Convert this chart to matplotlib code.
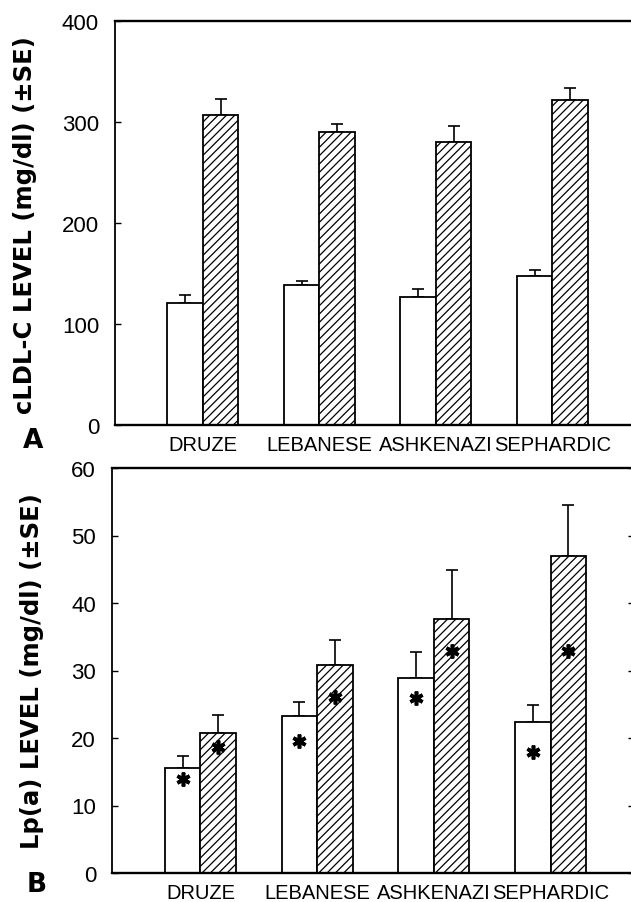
import matplotlib
matplotlib.use("Agg")
import matplotlib.pyplot as plt
import numpy as np

plt.rcParams['hatch.linewidth'] = 0.9
plt.rcParams['font.family'] = ['Liberation Sans', 'DejaVu Sans']

categories = ["DRUZE", "LEBANESE", "ASHKENAZI", "SEPHARDIC"]

# Panel A: cLDL-C level (mg/dl), mean and SE
ldl_open = [121, 138.5, 127, 147.5]
ldl_open_se = [8, 4.5, 7.5, 5.5]
ldl_hatched = [307, 290, 280, 322]
ldl_hatched_se = [16, 8, 16, 12]

# Panel B: Lp(a) level (mg/dl), mean and SE, plus asterisk values (medians)
lpa_open = [15.6, 23.3, 28.9, 22.3]
lpa_open_se = [1.8, 2.0, 3.9, 2.6]
lpa_hatched = [20.7, 30.8, 37.6, 47.0]
lpa_hatched_se = [2.7, 3.7, 7.3, 7.5]
lpa_open_star = [14.0, 19.5, 25.9, 18.0]
lpa_hatched_star = [18.7, 26.1, 32.9, 32.9]

W, H = 631, 903
fig = plt.figure(figsize=(W / 100, H / 100), dpi=100)


def px_axes(left, right, top, bottom):
    return fig.add_axes([left / W, 1 - bottom / H, (right - left) / W, (bottom - top) / H])


def draw_panel(ax, open_v, open_se, hat_v, hat_se, ylim, yticks, xlim, right_ticks=False):
    x = np.arange(len(categories))
    w = 0.305
    ax.bar(x - w / 2, open_v, w, color='white', edgecolor='black', linewidth=1.3, zorder=2)
    ax.bar(x + w / 2, hat_v, w, color='white', edgecolor='black', linewidth=1.3,
           hatch='////', zorder=2)
    ax.errorbar(x - w / 2, open_v, yerr=[np.zeros(len(x)), open_se], fmt='none',
                ecolor='black', elinewidth=1.2, capsize=4, capthick=1.2, zorder=1)
    ax.errorbar(x + w / 2, hat_v, yerr=[np.zeros(len(x)), hat_se], fmt='none',
                ecolor='black', elinewidth=1.2, capsize=4, capthick=1.2, zorder=1)
    ax.set_xlim(*xlim)
    ax.set_ylim(*ylim)
    ax.set_yticks(yticks)
    ax.set_xticks(x)
    ax.set_xticklabels(categories, fontsize=14.5)
    ax.tick_params(axis='x', length=0, pad=7)
    ax.tick_params(axis='y', direction='in', length=4, width=1, labelsize=16, pad=11.5,
                   right=right_ticks)
    ax.spines['left'].set_linewidth(1.3)
    for s in ['top', 'bottom']:
        ax.spines[s].set_linewidth(1.7)
    ax.spines['right'].set_linewidth(1.3)
    return x, w


axA = px_axes(115, 636, 22, 426)
draw_panel(axA, ldl_open, ldl_open_se, ldl_hatched, ldl_hatched_se,
           (0, 400), [0, 100, 200, 300, 400], (-0.755, 3.717))

axB = px_axes(112, 634, 469, 874)
xB, wB = draw_panel(axB, lpa_open, lpa_open_se, lpa_hatched, lpa_hatched_se,
                    (0, 60), [0, 10, 20, 30, 40, 50, 60], (-0.758, 3.715), right_ticks=True)
axB.plot(xB - wB / 2, lpa_open_star, linestyle='none', marker=(6, 2, 0),
         markersize=10, markeredgewidth=2.6, color='black', zorder=3)
axB.plot(xB + wB / 2, lpa_hatched_star, linestyle='none', marker=(6, 2, 0),
         markersize=10, markeredgewidth=2.6, color='black', zorder=3)

fig.text(25 / W, 1 - 225 / H, "cLDL-C LEVEL (mg/dl) (±SE)", rotation=90,
         ha='center', va='center', fontsize=17.5, fontweight='bold', family='DejaVu Sans')
fig.text(32 / W, 1 - 671 / H, "Lp(a) LEVEL (mg/dl) (±SE)", rotation=90,
         ha='center', va='center', fontsize=17.5, fontweight='bold', family='DejaVu Sans')
fig.text(33 / W, 1 - 441 / H, "A", ha='center', va='center', fontsize=19, fontweight='bold',
         family='DejaVu Sans')
fig.text(37 / W, 1 - 885 / H, "B", ha='center', va='center', fontsize=19, fontweight='bold',
         family='DejaVu Sans')

fig.savefig("out.png", dpi=100)
